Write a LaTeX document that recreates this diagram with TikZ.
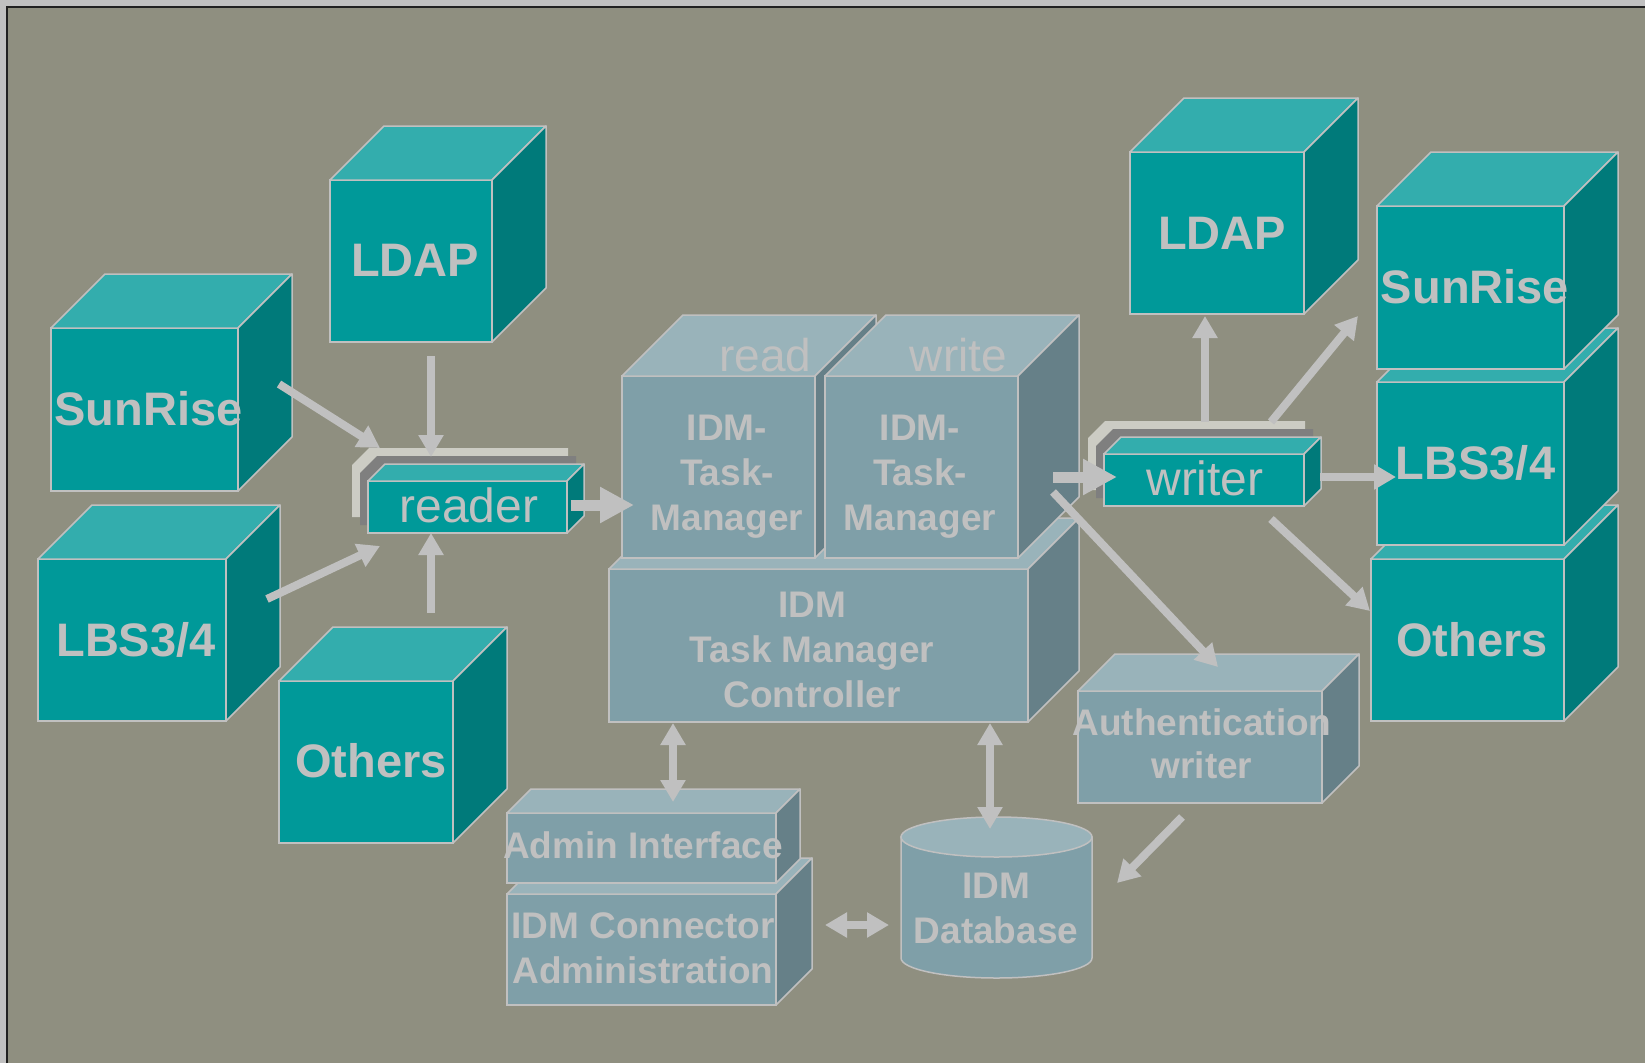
\documentclass[tikz,border=0pt]{standalone}
\usepackage{fontspec}
\setmainfont{Liberation Sans}
\usepackage{xcolor}
\usetikzlibrary{arrows.meta}
\definecolor{bgColor}{HTML}{8F8F80}
\definecolor{frameLight}{HTML}{C0C0C0}
\definecolor{frameDark}{HTML}{202020}
\definecolor{edgeColor}{HTML}{C0C0C0}
\definecolor{labelColor}{HTML}{C0C0C0}
\definecolor{arrowColor}{HTML}{C0C0C0}
\definecolor{tealFront}{HTML}{009999}
\definecolor{tealTop}{HTML}{33ADAD}
\definecolor{tealSide}{HTML}{007A7A}
\definecolor{slateFront}{HTML}{7F9FA8}
\definecolor{slateTop}{HTML}{99B3BA}
\definecolor{slateSide}{HTML}{668088}
\definecolor{stackLight}{HTML}{CCCCC4}
\definecolor{stackDark}{HTML}{7F7F7F}

% top and side faces of a box whose front face is node #1
\newcommand{\cubeFaces}[4]{%
\filldraw[fill=#3, draw=edgeColor, line width=1.5pt, line join=round]
(#1.north west) -- ++(#2,-#2) -- ([shift={(#2,-#2)}]#1.north east) -- (#1.north east) -- cycle;
\filldraw[fill=#4, draw=edgeColor, line width=1.5pt, line join=round]
(#1.north east) -- ([shift={(#2,-#2)}]#1.north east) -- ([shift={(#2,-#2)}]#1.south east) -- (#1.south east) -- cycle;
}

\begin{document}
\begin{tikzpicture}[x=1pt,y=-1pt,
tealFace/.style={fill=tealFront, draw=edgeColor, line width=1.5pt, inner sep=0pt, outer sep=0pt},
slateFace/.style={fill=slateFront, draw=edgeColor, line width=1.5pt, inner sep=0pt, outer sep=0pt},
boxLabel/.style={text=labelColor, font={\fontsize{47}{56}\selectfont\bfseries}, anchor=base, inner sep=0pt},
plainLabel/.style={text=labelColor, font={\fontsize{48}{56}\selectfont}, anchor=base, inner sep=0pt},
smallLabel/.style={text=labelColor, font={\fontsize{37}{45}\selectfont\bfseries}, align=center, anchor=north, inner sep=0pt},
thinArrow/.style={draw=arrowColor, line width=8pt, -{Triangle[width=24pt,length=22pt]}},
thickArrow/.style={draw=arrowColor, line width=11pt, -{Triangle[width=34pt,length=34pt]}},
bothArrow/.style={draw=arrowColor, line width=8pt, {Triangle[width=24pt,length=22pt]}-{Triangle[width=24pt,length=22pt]}}]

% background and frame
\fill[bgColor] (0,0) rectangle (1645,1063);
\useasboundingbox (0,0) rectangle (1645,1063);
\fill[frameLight] (0,0) rectangle (1645,6);
\fill[frameLight] (0,0) rectangle (6,1063);
\draw[frameDark, line width=2.5pt] (7.2,1063) -- (7.2,7.2) -- (1645,7.2);

% left sources
\begin{scope}
\node[tealFace, minimum width=162pt, minimum height=162pt] (ldapL) at (411,261) {};
\cubeFaces{ldapL}{54}{tealTop}{tealSide}
\node[boxLabel] (ldapLText) at (415,276) {LDAP};
\node[tealFace, minimum width=187pt, minimum height=163pt] (sunL) at (144.5,409.5) {};
\cubeFaces{sunL}{54}{tealTop}{tealSide}
\node[boxLabel] (sunLText) at (148.5,425) {SunRise};
\node[tealFace, minimum width=188pt, minimum height=162pt] (lbsL) at (132,640) {};
\cubeFaces{lbsL}{54}{tealTop}{tealSide}
\node[boxLabel] (lbsLText) at (136,656) {LBS3/4};
\node[tealFace, minimum width=174pt, minimum height=162pt] (othL) at (366,762) {};
\cubeFaces{othL}{54}{tealTop}{tealSide}
\node[boxLabel] (othLText) at (371,777) {Others};
\end{scope}

% reader
\begin{scope}
\fill[stackLight, shift={(-16,-16)}] (368,533) -- (368,481) -- (385,464) -- (584,464) -- (584,516) -- (567,533) -- cycle;
\fill[stackDark, shift={(-8,-8)}] (368,533) -- (368,481) -- (385,464) -- (584,464) -- (584,516) -- (567,533) -- cycle;
\node[tealFace, minimum width=199pt, minimum height=52pt] (reader) at (467.5,507) {};
\cubeFaces{reader}{17}{tealTop}{tealSide}
\node[plainLabel] (readerText) at (469,522) {reader};
\end{scope}

% task manager
\begin{scope}
\node[slateFace, minimum width=419pt, minimum height=153pt] (ctrl) at (818.5,645.5) {};
\cubeFaces{ctrl}{51}{slateTop}{slateSide}
\node[smallLabel] (ctrlText) at (812,592) {IDM\\Task Manager\\Controller};
\node[slateFace, minimum width=193pt, minimum height=182pt] (readTM) at (718.5,467) {};
\cubeFaces{readTM}{61}{slateTop}{slateSide}
\node[plainLabel, font={\fontsize{46}{56}\selectfont}] (readText) at (765.5,371) {read};
\node[smallLabel] (readTMText) at (727,415) {IDM-\\Task-\\Manager};
\node[slateFace, minimum width=193pt, minimum height=182pt] (writeTM) at (921.5,467) {};
\cubeFaces{writeTM}{61}{slateTop}{slateSide}
\node[plainLabel, font={\fontsize{46}{56}\selectfont}] (writeText) at (958.5,371) {write};
\node[smallLabel] (writeTMText) at (920,415) {IDM-\\Task-\\Manager};
\end{scope}

% administration and database
\begin{scope}
\node[slateFace, minimum width=269pt, minimum height=111pt] (conn) at (641.5,949.5) {};
\cubeFaces{conn}{36}{slateTop}{slateSide}
\node[smallLabel] (connText) at (643,912) {IDM Connector\\Administration};
\node[slateFace, minimum width=269pt, minimum height=70pt] (admin) at (641.5,848) {};
\cubeFaces{admin}{24}{slateTop}{slateSide}
\node[smallLabel, anchor=base] (adminText) at (643,858) {Admin Interface};
\node[inner sep=0pt, outer sep=0pt, minimum width=191pt, minimum height=121pt] (db) at (996.5,897.5) {};
\filldraw[fill=slateFront, draw=edgeColor, line width=1.5pt]
(db.north west) -- (db.south west) arc[start angle=180, end angle=0, x radius=95.5, y radius=20] -- (db.north east) -- cycle;
\filldraw[fill=slateTop, draw=edgeColor, line width=1.5pt] (db.north) ellipse[x radius=95.5, y radius=20];
\node[smallLabel] (dbText) at (996,873) {IDM\\Database};
\node[slateFace, minimum width=244pt, minimum height=112pt] (auth) at (1200,747) {};
\cubeFaces{auth}{37}{slateTop}{slateSide}
\node[smallLabel, font={\fontsize{37}{43}\selectfont\bfseries}] (authText) at (1202,708) {Authentication\\writer};
\end{scope}

% writer
\begin{scope}
\fill[stackLight, shift={(-16,-16)}] (1104,506) -- (1104,454) -- (1121,437) -- (1321,437) -- (1321,489) -- (1304,506) -- cycle;
\fill[stackDark, shift={(-8,-8)}] (1104,506) -- (1104,454) -- (1121,437) -- (1321,437) -- (1321,489) -- (1304,506) -- cycle;
\node[tealFace, minimum width=200pt, minimum height=52pt] (writer) at (1204,480) {};
\cubeFaces{writer}{17}{tealTop}{tealSide}
\node[plainLabel] (writerText) at (1205,495) {writer};
\end{scope}

% right targets
\begin{scope}
\node[tealFace, minimum width=174pt, minimum height=162pt] (ldapR) at (1217,233) {};
\cubeFaces{ldapR}{54}{tealTop}{tealSide}
\node[boxLabel] (ldapRText) at (1222,249) {LDAP};
\node[tealFace, minimum width=193pt, minimum height=162pt] (othR) at (1467.5,640) {};
\cubeFaces{othR}{54}{tealTop}{tealSide}
\node[boxLabel] (othRText) at (1472,656) {Others};
\node[tealFace, minimum width=187pt, minimum height=163pt] (lbsR) at (1470.5,463.5) {};
\cubeFaces{lbsR}{54}{tealTop}{tealSide}
\node[boxLabel] (lbsRText) at (1475.5,479) {LBS3/4};
\node[tealFace, minimum width=187pt, minimum height=163pt] (sunR) at (1470.5,287.5) {};
\cubeFaces{sunR}{54}{tealTop}{tealSide}
\node[boxLabel] (sunRText) at (1475,303) {SunRise};
\end{scope}

% arrow layer
\begin{scope}
\draw[thinArrow] ([shift={(41,-25.5)}]sunL.east) -- ([shift={(12,-33)}]reader.north west);
\draw[thinArrow] ([shift={(20,14)}]ldapL.south) -- ([shift={(-36.5,-24)}]reader.north);
\draw[thinArrow] ([shift={(41,-41)}]lbsL.east) -- ([shift={(12,13)}]reader.south west);
\draw[thinArrow] ([shift={(65,-68)}]othL.north) -- ([shift={(-36.5,0)}]reader.south);
\draw[thickArrow] ([shift={(4,-2)}]reader.east) -- ([shift={(12,38)}]readTM.west);
\draw[thickArrow] ([shift={(35,10)}]writeTM.east) -- ([shift={(13,-3)}]writer.west);
\draw[thinArrow] ([shift={(35,25)}]writeTM.east) -- ([shift={(18,-24)}]auth.north);
\draw[thinArrow] ([shift={(1,-32)}]writer.north) -- ([shift={(-12,2)}]ldapR.south);
\draw[thinArrow] ([shift={(67,-32)}]writer.north) -- ([shift={(-19,-53)}]sunR.south west);
\draw[thinArrow] ([shift={(16,-3)}]writer.east) -- ([shift={(19,13.5)}]lbsR.west);
\draw[thinArrow] ([shift={(67,13)}]writer.south) -- ([shift={(-1,-29)}]othR.west);
\draw[thinArrow] ([shift={(-18,14)}]auth.south) -- ([shift={(25,-14.5)}]db.east);
\draw[bothArrow] ([shift={(64,1)}]ctrl.south west) -- ([shift={(31.5,-11)}]admin.north);
\draw[bothArrow] ([shift={(381,1)}]ctrl.south west) -- ([shift={(-6.5,-8)}]db.north);
\draw[bothArrow] ([shift={(49,-24.5)}]conn.east) -- ([shift={(-12,27.5)}]db.west);
\end{scope}
\end{tikzpicture}
\end{document}
